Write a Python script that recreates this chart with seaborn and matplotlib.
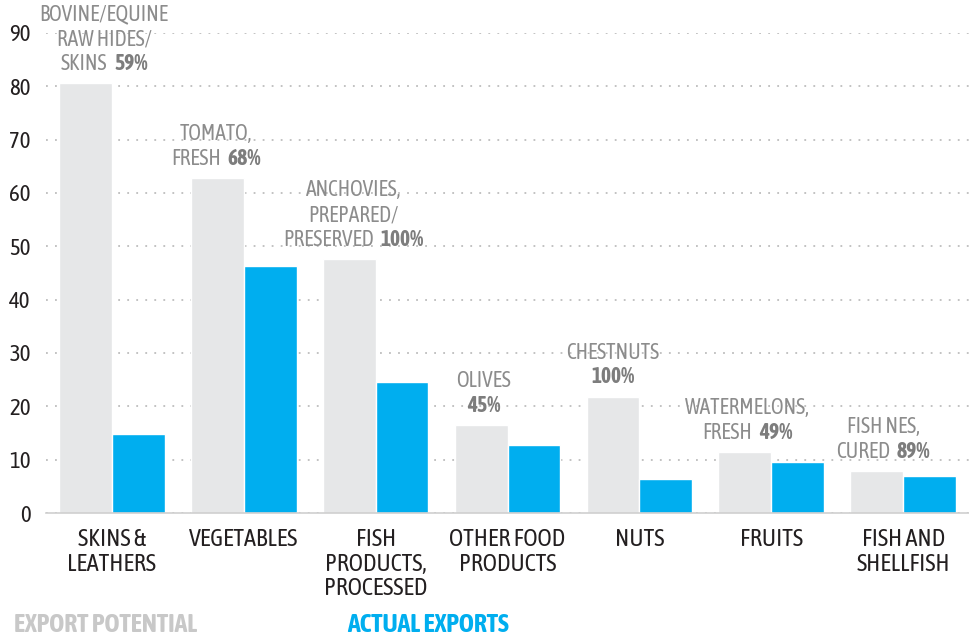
import pandas as pd
import matplotlib
matplotlib.use("Agg")
import matplotlib.pyplot as plt
import seaborn as sns
from matplotlib import font_manager as fm
from matplotlib.offsetbox import TextArea, HPacker, VPacker, AnnotationBbox

# --- datos ---
categories = ["SKINS &\nLEATHERS", "VEGETABLES", "FISH\nPRODUCTS,\nPROCESSED",
              "OTHER FOOD\nPRODUCTS", "NUTS", "FRUITS", "FISH AND\nSHELLFISH"]
export_potential = [80.6, 62.8, 47.6, 16.5, 21.8, 11.4, 7.9]
actual_exports = [14.8, 46.3, 24.6, 12.8, 6.4, 9.6, 6.9]
top_products = ["BOVINE/EQUINE\nRAW HIDES/\nSKINS", "TOMATO,\nFRESH",
                "ANCHOVIES,\nPREPARED/\nPRESERVED", "OLIVES", "CHESTNUTS",
                "WATERMELONS,\nFRESH", "FISH NES,\nCURED"]
top_shares = ["59%", "68%", "100%", "45%", "100%", "49%", "89%"]
y_ticks = [0, 10, 20, 30, 40, 50, 60, 70, 80, 90]

GREY = "#e6e7e8"
BLUE = "#00aeef"
TXT = "#231f20"
ANN = "#8c8c8c"

sns.set_style("white")

# buscar una familia estrecha (condensed / narrow) que tenga regular y negrita
pesos = {}
for f in fm.fontManager.ttflist:
    if "Narrow" in f.name or "Condensed" in f.name:
        w = f.weight if isinstance(f.weight, int) else \
            {"normal": 400, "regular": 400, "bold": 700}.get(str(f.weight), 0)
        pesos.setdefault(f.name, set()).add(w)
familia = "Liberation Sans"
for nombre, ws in sorted(pesos.items()):
    if 400 in ws and 700 in ws:
        familia = nombre
        break
else:
    if pesos:
        familia = sorted(pesos)[0]

plt.rcParams['font.family'] = [familia, 'DejaVu Sans']

df = pd.DataFrame({
    "category": categories * 2,
    "value": export_potential + actual_exports,
    "series": ["EXPORT POTENTIAL"] * 7 + ["ACTUAL EXPORTS"] * 7,
})

fig = plt.figure(figsize=(9.69, 6.36), dpi=100)
ax = fig.add_axes([46 / 969, 123 / 636, 923 / 969, 480 / 636])

sns.barplot(data=df, x="category", y="value", hue="series",
            palette=[GREY, BLUE], saturation=1, width=0.8,
            legend=False, ax=ax, zorder=2)

ax.set_xlim(-0.5, 6.42)
ax.set_ylim(0, 90)
ax.set_yticks(y_ticks)
ax.set_xlabel("")
ax.set_ylabel("")
ax.yaxis.grid(True, linestyle=(0, (1, 4)), color="#bdbdbd", linewidth=1.3, zorder=0)
ax.set_axisbelow(True)

for s in ["top", "right", "left"]:
    ax.spines[s].set_visible(False)
ax.spines["bottom"].set_color("#cfcfcf")
ax.spines["bottom"].set_linewidth(1.2)

ax.tick_params(axis="y", length=0, pad=11, labelsize=16.5, labelcolor=TXT)
ax.tick_params(axis="x", which="major", length=0, pad=11, labelsize=17.5, labelcolor=TXT)
ax.set_xticks([i - 0.5 for i in range(8)], minor=True)
ax.tick_params(axis="x", which="minor", direction="in", length=5, color="#cfcfcf", width=1.2)
for lbl in ax.get_xticklabels():
    lbl.set_linespacing(1.08)

# --- anotaciones de producto principal ---
ann_x = [-0.06, 0.79, 1.83, 2.82, 3.8, 4.82, 5.85]
for i, (prod, share) in enumerate(zip(top_products, top_shares)):
    lines = prod.split("\n")
    reg = dict(color=ANN, fontsize=15.5)
    bold = dict(color="#7d7d7d", fontsize=15.5, fontweight="bold")
    if len(lines) == 1:
        rows = [TextArea(lines[0], textprops=reg), TextArea(share, textprops=bold)]
    else:
        rows = [TextArea(l, textprops=reg) for l in lines[:-1]]
        rows.append(HPacker(children=[TextArea(lines[-1], textprops=reg),
                                      TextArea(share, textprops=bold)],
                            align="baseline", pad=0, sep=5))
    box = VPacker(children=rows, align="center", pad=0, sep=2)
    ab = AnnotationBbox(box, (ann_x[i], export_potential[i]), xybox=(0, 6),
                        xycoords="data", boxcoords="offset points",
                        box_alignment=(0.5, 0), frameon=False, pad=0)
    ax.add_artist(ab)

# --- leyenda ---
fig.text(14 / 969, 1 - 625 / 636, "EXPORT POTENTIAL", color="#c8c8c8",
         fontsize=18.5, fontweight="bold", va="center", ha="left")
fig.text(347 / 969, 1 - 625 / 636, "ACTUAL EXPORTS", color=BLUE,
         fontsize=18.5, fontweight="bold", va="center", ha="left")

fig.savefig("out.png", dpi=100)
